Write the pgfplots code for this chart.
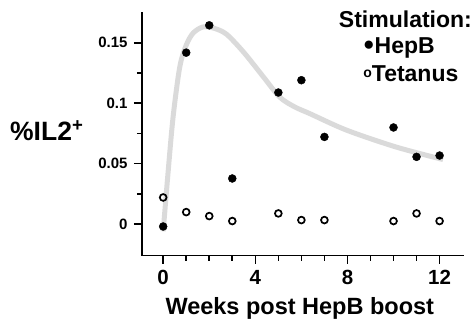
\documentclass[border=0pt]{standalone}
\usepackage{pgfplots}
\pgfplotsset{compat=1.18}
\usepackage{fontspec}
\setmainfont{Liberation Sans}
\definecolor{curvegray}{RGB}{218,218,218}
\newcommand{\filldot}{\raisebox{0.12em}{\fontsize{19bp}{19bp}\selectfont ●}}
\newcommand{\opendot}{\raisebox{4.5bp}{\fontsize{14bp}{14bp}\selectfont\bfseries o}}
\begin{document}
\begin{tikzpicture}
\path[use as bounding box] (-142bp,-65.5bp) rectangle (334bp,255.5bp);
\begin{axis}[
  at={(0,0)}, anchor=south west,
  scale only axis, width=322bp, height=243bp,
  xmin=-0.92, xmax=13.06, ymin=-0.026, ymax=0.175,
  axis lines*=left,
  axis line style={line width=1.6bp, -},
  every tick/.style={black, line width=1.6bp},
  tick align=outside,
  major tick length=8bp, minor tick length=5bp,
  xtick={0,4,8,12}, xticklabels={0,4,8,12},
  minor xtick={1,2,3,5,6,7,9,10,11},
  ytick={0,0.05,0.1,0.15}, yticklabels={0,0.05,0.1,0.15},
  minor ytick={0.025,0.075,0.125},
  /pgf/number format/assume math mode=true,
  xticklabel style={font=\fontsize{20.5bp}{24bp}\selectfont\bfseries, yshift=-3bp},
  yticklabel style={font=\fontsize{15bp}{17bp}\selectfont\bfseries, xshift=-3bp},
  clip=false,
]
\addplot[curvegray, line width=5bp, smooth, tension=0.5] coordinates {
 (0,-0.006) (0.2,0.04) (0.43,0.0886) (0.72,0.13) (1.0,0.148) (1.3,0.158)
 (1.72,0.163) (2.2,0.162) (2.75,0.157) (3.5,0.142) (4.34,0.122) (5.06,0.105)
 (5.7,0.097) (6.36,0.0914) (7.96,0.0777) (10.1,0.0638) (12.15,0.0534)};
\addplot[only marks, mark=*, mark size=4bp, black] coordinates {
 (0,-0.002) (1,0.1418) (2,0.1644) (3,0.0377) (5,0.1088) (6,0.119)
 (7,0.0721) (10,0.0799) (11,0.0556) (12,0.0567)};
\addplot[only marks, mark=o, mark size=3.4bp, black, mark options={line width=1.7bp}] coordinates {
 (0,0.022) (1,0.0099) (2,0.0066) (3,0.0025) (5,0.0088) (6,0.0033)
 (7,0.0033) (10,0.0025) (11,0.0088) (12,0.0025)};
\node[anchor=west, font=\fontsize{26.5bp}{30bp}\selectfont\bfseries, inner sep=0pt] at (axis description cs:-0.41,0.515) {\%IL2\textsuperscript{+}};
\node[anchor=base, font=\fontsize{23.5bp}{26bp}\selectfont\bfseries, inner sep=0pt] at (axis description cs:0.49,-0.241) {Weeks post HepB boost};
\node[anchor=base east, font=\fontsize{23bp}{26bp}\selectfont\bfseries, inner sep=0pt] at (axis description cs:1.025,0.939) {Stimulation:};
\node[anchor=base, font=\fontsize{23bp}{26bp}\selectfont\bfseries, inner sep=0pt] at (axis description cs:0.798,0.832) {\filldot HepB};
\node[anchor=base, font=\fontsize{23bp}{26bp}\selectfont\bfseries, inner sep=0pt] at (axis description cs:0.835,0.716) {\opendot Tetanus};
\end{axis}
\end{tikzpicture}
\end{document}
